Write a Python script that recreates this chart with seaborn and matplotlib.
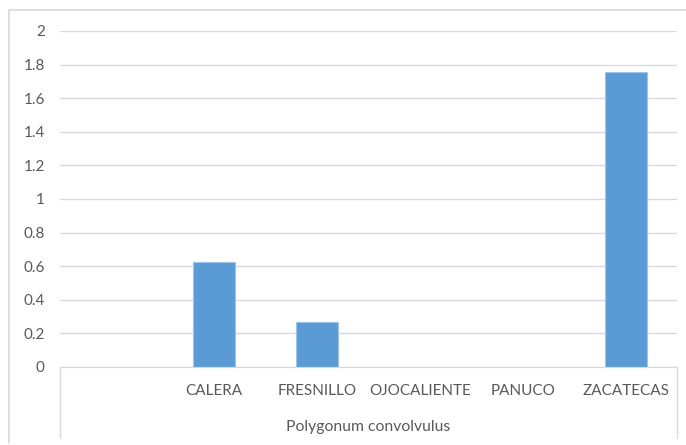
#!/usr/bin/env python3

# Bar chart of Polygonum convolvulus by municipality, Excel style.

import matplotlib
matplotlib.use('Agg')
import matplotlib.pyplot as plt
from matplotlib.lines import Line2D
from matplotlib.ticker import FuncFormatter, MultipleLocator
import seaborn as sns

categories = ['', 'CALERA', 'FRESNILLO', 'OJOCALIENTE', 'PANUCO', 'ZACATECAS']
values = [0, 0.625, 0.268, 0, 0, 1.756]
group_label = 'Polygonum convolvulus'

BAR_COLOR = '#5b9bd5'
GRID_COLOR = '#d9d9d9'
TEXT_COLOR = '#595959'

W, H = 686, 445


def main():
    sns.set_style('white')
    plt.rcParams['font.family'] = ['Lato', 'DejaVu Sans']
    fig = plt.figure(figsize=(W / 100, H / 100), dpi=100)
    ax = fig.add_axes([60 / W, (H - 367) / H, (677 - 60) / W, (367 - 31) / H])

    sns.barplot(x=categories, y=values, color=BAR_COLOR, width=0.41,
                edgecolor='#9dc3e6', linewidth=0.8, saturation=1, ax=ax)

    ax.set_ylim(0, 2)
    ax.set_xlim(-0.5, len(categories) - 0.5)
    ax.yaxis.set_major_locator(MultipleLocator(0.2))
    ax.yaxis.set_major_formatter(FuncFormatter(lambda v, p: '{:g}'.format(round(v, 1))))
    ax.grid(axis='y', color=GRID_COLOR, linewidth=1)
    ax.set_axisbelow(True)
    for side in ['top', 'right', 'left']:
        ax.spines[side].set_visible(False)
    ax.spines['bottom'].set_color(GRID_COLOR)
    ax.tick_params(axis='y', length=0, pad=11, labelsize=11, labelcolor=TEXT_COLOR)
    ax.tick_params(axis='x', length=0, pad=12, labelsize=11, labelcolor=TEXT_COLOR)
    ax.set_xlabel('')
    ax.set_ylabel('')

    # group box under the category labels
    depth = -(438 - 367) / 168
    for xpos in [-0.5, len(categories) - 0.5]:
        ax.plot([xpos, xpos], [0, depth], color=GRID_COLOR, linewidth=1, clip_on=False)
    ax.text((len(categories) - 1) / 2, -(427 - 367) / 168, group_label,
            ha='center', va='center', fontsize=11.3, color=TEXT_COLOR, clip_on=False)

    # outer chart frame (cropped on right and bottom)
    fig.add_artist(Line2D([9 / W, 9 / W], [1 - 9.5 / H, 1 - 443 / H],
                          transform=fig.transFigure, color=GRID_COLOR, linewidth=1.2))
    fig.add_artist(Line2D([9 / W, 1], [1 - 9.5 / H, 1 - 9.5 / H],
                          transform=fig.transFigure, color=GRID_COLOR, linewidth=1.2))

    fig.savefig('out.png', dpi=100)


if __name__ == '__main__':
    main()
